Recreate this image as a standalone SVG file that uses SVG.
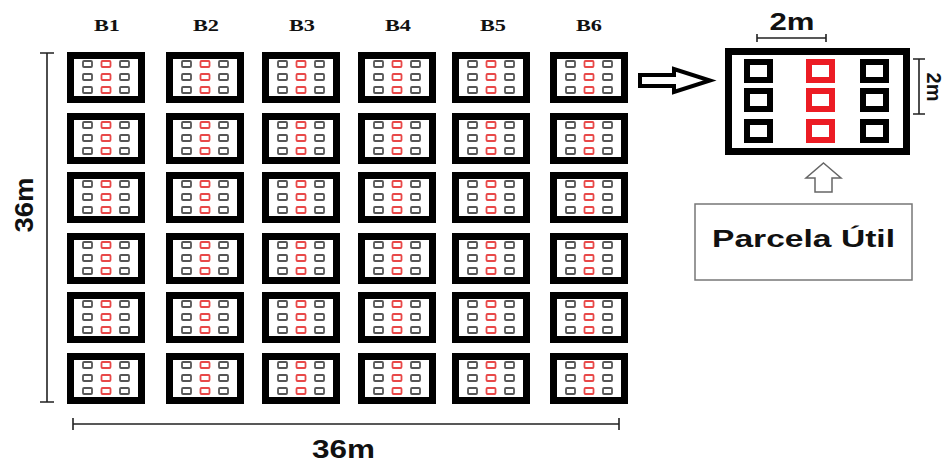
<svg xmlns="http://www.w3.org/2000/svg" xmlns:xlink="http://www.w3.org/1999/xlink" width="944" height="464" viewBox="0 0 944 464">
<style>
.pb{fill:#fff;stroke:#000;stroke-width:7}
.gc{fill:none;stroke:#555;stroke-width:1.8}
.rc{fill:none;stroke:#e84848;stroke-width:1.8}
.bk{fill:none;stroke:#000;stroke-width:6}
.rd{fill:none;stroke:#ec1c24;stroke-width:6}
.dim{fill:none;stroke:#222;stroke-width:1.6}
.lbl{font-family:"Liberation Serif",serif;font-weight:bold;font-size:16px;fill:#111;text-anchor:middle}
.big{font-family:"Liberation Sans",Arial,sans-serif;font-weight:bold;fill:#111;text-anchor:middle}
</style>
<defs>
<g id="plot">
<rect class="pb" x="3.5" y="3.5" width="71" height="44"/>
<rect class="gc" x="16" y="9" width="9" height="6" rx="1"/>
<rect class="rc" x="34.5" y="9" width="9" height="6" rx="1"/>
<rect class="gc" x="53" y="9" width="9" height="6" rx="1"/>
<rect class="gc" x="16" y="22" width="9" height="6" rx="1"/>
<rect class="rc" x="34.5" y="22" width="9" height="6" rx="1"/>
<rect class="gc" x="53" y="22" width="9" height="6" rx="1"/>
<rect class="gc" x="16" y="35" width="9" height="6" rx="1"/>
<rect class="rc" x="34.5" y="35" width="9" height="6" rx="1"/>
<rect class="gc" x="53" y="35" width="9" height="6" rx="1"/>
</g>
</defs>
<rect width="944" height="464" fill="#fff"/>
<g id="block-labels">
<text class="lbl" x="107" y="30.5" textLength="26" lengthAdjust="spacingAndGlyphs">B1</text>
<text class="lbl" x="206" y="30.5" textLength="26" lengthAdjust="spacingAndGlyphs">B2</text>
<text class="lbl" x="302" y="30.5" textLength="26" lengthAdjust="spacingAndGlyphs">B3</text>
<text class="lbl" x="398" y="30.5" textLength="26" lengthAdjust="spacingAndGlyphs">B4</text>
<text class="lbl" x="493" y="30.5" textLength="26" lengthAdjust="spacingAndGlyphs">B5</text>
<text class="lbl" x="589" y="30.5" textLength="26" lengthAdjust="spacingAndGlyphs">B6</text>
</g>
<g id="B1-1"><use xlink:href="#plot" x="67" y="52"/></g>
<g id="B2-1"><use xlink:href="#plot" x="166" y="52"/></g>
<g id="B3-1"><use xlink:href="#plot" x="262" y="52"/></g>
<g id="B4-1"><use xlink:href="#plot" x="358" y="52"/></g>
<g id="B5-1"><use xlink:href="#plot" x="452" y="52"/></g>
<g id="B6-1"><use xlink:href="#plot" x="550" y="52"/></g>
<g id="B1-2"><use xlink:href="#plot" x="67" y="113"/></g>
<g id="B2-2"><use xlink:href="#plot" x="166" y="113"/></g>
<g id="B3-2"><use xlink:href="#plot" x="262" y="113"/></g>
<g id="B4-2"><use xlink:href="#plot" x="358" y="113"/></g>
<g id="B5-2"><use xlink:href="#plot" x="452" y="113"/></g>
<g id="B6-2"><use xlink:href="#plot" x="550" y="113"/></g>
<g id="B1-3"><use xlink:href="#plot" x="67" y="172"/></g>
<g id="B2-3"><use xlink:href="#plot" x="166" y="172"/></g>
<g id="B3-3"><use xlink:href="#plot" x="262" y="172"/></g>
<g id="B4-3"><use xlink:href="#plot" x="358" y="172"/></g>
<g id="B5-3"><use xlink:href="#plot" x="452" y="172"/></g>
<g id="B6-3"><use xlink:href="#plot" x="550" y="172"/></g>
<g id="B1-4"><use xlink:href="#plot" x="67" y="233"/></g>
<g id="B2-4"><use xlink:href="#plot" x="166" y="233"/></g>
<g id="B3-4"><use xlink:href="#plot" x="262" y="233"/></g>
<g id="B4-4"><use xlink:href="#plot" x="358" y="233"/></g>
<g id="B5-4"><use xlink:href="#plot" x="452" y="233"/></g>
<g id="B6-4"><use xlink:href="#plot" x="550" y="233"/></g>
<g id="B1-5"><use xlink:href="#plot" x="67" y="292"/></g>
<g id="B2-5"><use xlink:href="#plot" x="166" y="292"/></g>
<g id="B3-5"><use xlink:href="#plot" x="262" y="292"/></g>
<g id="B4-5"><use xlink:href="#plot" x="358" y="292"/></g>
<g id="B5-5"><use xlink:href="#plot" x="452" y="292"/></g>
<g id="B6-5"><use xlink:href="#plot" x="550" y="292"/></g>
<g id="B1-6"><use xlink:href="#plot" x="67" y="353"/></g>
<g id="B2-6"><use xlink:href="#plot" x="166" y="353"/></g>
<g id="B3-6"><use xlink:href="#plot" x="262" y="353"/></g>
<g id="B4-6"><use xlink:href="#plot" x="358" y="353"/></g>
<g id="B5-6"><use xlink:href="#plot" x="452" y="353"/></g>
<g id="B6-6"><use xlink:href="#plot" x="550" y="353"/></g>
<g id="dimensions">
<path class="dim" d="M47,53 V402 M40,53 H54 M40,402 H54"/>
<text class="big" font-size="26" transform="translate(33,205) rotate(-90)" textLength="55" lengthAdjust="spacingAndGlyphs">36m</text>
<path class="dim" d="M73,424 H619 M73,418 V430 M619,418 V430"/>
<text class="big" font-size="26" x="343.5" y="458" textLength="63" lengthAdjust="spacingAndGlyphs">36m</text>
<path class="dim" d="M757,38 H826 M757,34 V42 M826,34 V42"/>
<text class="big" font-size="24" x="792" y="30" textLength="45" lengthAdjust="spacingAndGlyphs">2m</text>
<path class="dim" d="M919,59 V114 M913,59 H925 M913,114 H925"/>
<text class="big" font-size="20" transform="translate(927,87) rotate(90)">2m</text>
</g>
<g id="detail">
<rect x="728.5" y="51.5" width="178" height="100" fill="#fff" stroke="#000" stroke-width="7"/>
<rect class="bk" x="747" y="62" width="23" height="18"/>
<rect class="rd" x="809" y="62" width="23" height="18"/>
<rect class="bk" x="863" y="62" width="23" height="18"/>
<rect class="bk" x="747" y="91" width="23" height="18"/>
<rect class="rd" x="809" y="91" width="23" height="18"/>
<rect class="bk" x="863" y="91" width="23" height="18"/>
<rect class="bk" x="747" y="122" width="23" height="18"/>
<rect class="rd" x="809" y="122" width="23" height="18"/>
<rect class="bk" x="863" y="122" width="23" height="18"/>
</g>
<g id="parcela-util">
<rect x="695" y="204" width="217" height="76" fill="#fff" stroke="#777" stroke-width="1.5"/>
<text class="big" font-size="24" x="803.5" y="247" textLength="183" lengthAdjust="spacingAndGlyphs">Parcela Útil</text>
</g>
<g id="connectors">
<path d="M640,75 H674 V69 L710,80.5 L674,92 V86 H640 Z" fill="#fff" stroke="#000" stroke-width="4" stroke-linejoin="miter"/>
<path d="M823.5,163 L841,178 H832 V192 H815 V178 H806 Z" fill="#fff" stroke="#666" stroke-width="1.5"/>
</g>
</svg>
